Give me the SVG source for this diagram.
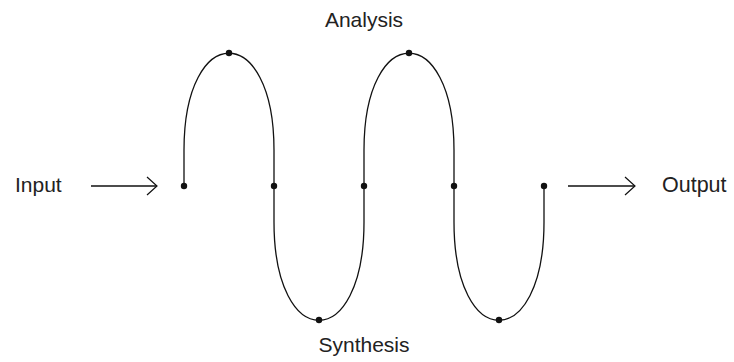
<svg xmlns="http://www.w3.org/2000/svg" width="734" height="362" viewBox="0 0 734 362">
<style>
.t{font-family:"Liberation Sans",Arial,sans-serif;font-size:21px;fill:#222}
.ln{fill:none;stroke:#111;stroke-width:1.3}
.dot{fill:#111}
</style>
<defs>
<marker id="ah" markerWidth="14" markerHeight="22" refX="11" refY="11" orient="auto" markerUnits="userSpaceOnUse">
<path d="M1,2 L11,11 L1,20" fill="none" stroke="#111" stroke-width="1.2"/>
</marker>
</defs>
<rect width="734" height="362" fill="#fff"/>
<g id="connectors">
<line class="ln" x1="91" y1="186" x2="157" y2="186" marker-end="url(#ah)"/>
<line class="ln" x1="568" y1="186" x2="635" y2="186" marker-end="url(#ah)"/>
<path id="wave" class="ln" d="M184,186 L184,150 C184,21 274,21 274,150 L274,222 C274,353 364,353 364,222 L364,150 C364,21 454,21 454,150 L454,222 C454,353 544,353 544,222 L544,186"/>
</g>
<g id="input"><text class="t" x="15" y="192">Input</text></g>
<g id="output"><text class="t" x="662" y="192" style="font-size:21.5px">Output</text></g>
<g id="analysis"><text class="t" x="364" y="27" text-anchor="middle">Analysis</text></g>
<g id="synthesis"><text class="t" x="364" y="352" text-anchor="middle">Synthesis</text></g>
<g id="points">
<circle class="dot" cx="184" cy="186" r="3.2"/>
<circle class="dot" cx="229" cy="53" r="3.2"/>
<circle class="dot" cx="274" cy="186" r="3.2"/>
<circle class="dot" cx="319" cy="320" r="3.2"/>
<circle class="dot" cx="364" cy="186" r="3.2"/>
<circle class="dot" cx="409" cy="53" r="3.2"/>
<circle class="dot" cx="454" cy="186" r="3.2"/>
<circle class="dot" cx="499" cy="320" r="3.2"/>
<circle class="dot" cx="544" cy="186" r="3.2"/>
</g>
</svg>
